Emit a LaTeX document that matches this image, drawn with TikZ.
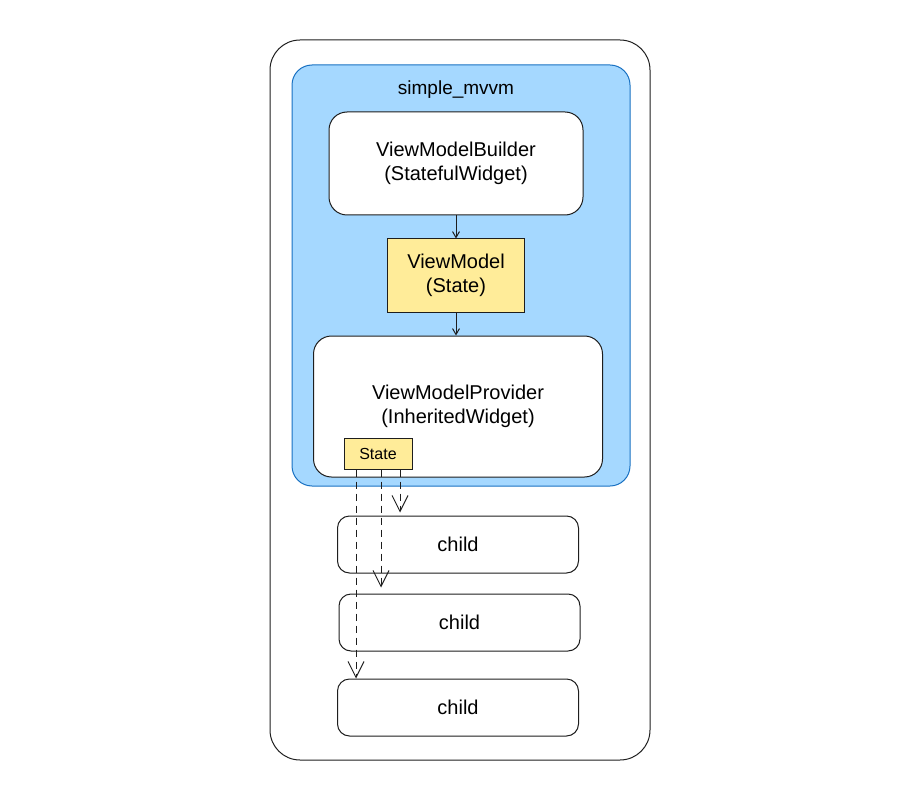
\documentclass[tikz,border=0pt]{standalone}
\usepackage{fontspec}
\setmainfont{Liberation Sans}
\usetikzlibrary{arrows.meta, positioning}
\definecolor{ink}{HTML}{1E1E1E}
\definecolor{bluefill}{HTML}{A5D8FF}
\definecolor{blueline}{HTML}{1971C2}
\definecolor{yellowfill}{HTML}{FFEC99}
\tikzstyle{widget}=[draw=ink,fill=white,line width=1pt,rounded corners=18pt,align=center,font=\fontsize{20}{24}\selectfont]
\tikzstyle{statebox}=[draw=ink,fill=yellowfill,line width=1pt,align=center]
\tikzstyle{childbox}=[draw=ink,fill=white,line width=1pt,rounded corners=12pt,minimum width=241pt,minimum height=57pt,font=\fontsize{20}{24}\selectfont]
\tikzstyle{flow}=[ink,line width=1pt,-{Straight Barb[length=6pt,width=7pt]}]
\tikzstyle{passdown}=[ink,line width=1pt,dashed,dash pattern=on 7pt off 5pt,-{Straight Barb[length=16pt,width=16pt]}]

\begin{document}
\begin{tikzpicture}[x=1pt,y=-1pt,node distance=23pt]
	\useasboundingbox (0,0) rectangle (912,802);
	% frames
	\draw[ink,line width=1pt,rounded corners=30pt] (270,40) rectangle (650,760);
	\draw[blueline,fill=bluefill,line width=1pt,rounded corners=20pt] (292,65) rectangle (630,486);
	\node[font=\fontsize{19}{24}\selectfont] (pkg) at (456,90) {simple\_mvvm};
	
	\node[widget, minimum width=254pt, minimum height=103pt] (builder) at (456,163.5) {ViewModelBuilder\\(StatefulWidget)};
	\node[statebox, minimum width=137pt, minimum height=73pt, font=\fontsize{20}{24}\selectfont, below=of builder] (viewmodel) {ViewModel\\(State)};
	\node[widget, minimum width=289pt, minimum height=141pt, below=of viewmodel, xshift=2pt] (provider) {ViewModelProvider\\(InheritedWidget)};
	\node[statebox, minimum width=68pt, minimum height=31pt, font=\fontsize{16}{18}\selectfont] (state) at (378,453.5) {State};
	
	\node[childbox, below=38pt of provider] (child1) {child};
	\node[childbox, below=20pt of child1, xshift=1.5pt] (child2) {child};
	\node[childbox, below=27pt of child2, xshift=-1.5pt] (child3) {child};
	
	\draw[flow] (builder) -- (viewmodel);
	\draw[flow] (viewmodel) -- (viewmodel |- provider.north);
	\draw[passdown] ([xshift=22pt]state.south) -- ([xshift=22pt,yshift=3pt]state.south |- child1.north);
	\draw[passdown] ([xshift=3pt]state.south) -- ([xshift=3pt,yshift=6pt]state.south |- child2.north);
	\draw[passdown] ([xshift=-22pt]state.south) -- ([xshift=-22pt]state.south |- child3.north);
\end{tikzpicture}
\end{document}
